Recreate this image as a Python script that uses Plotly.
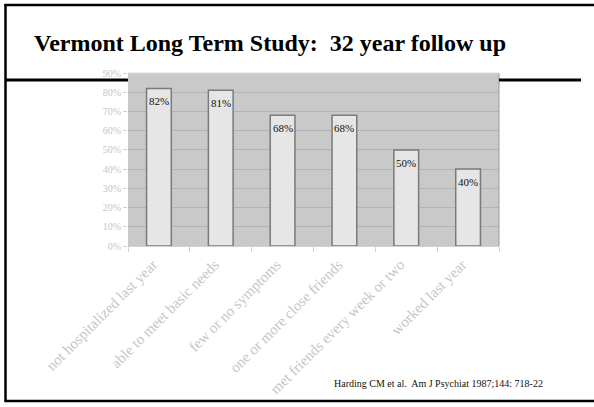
import plotly.graph_objects as go

W, H = 594, 407

categories = [
    "not hospitalized last year",
    "able to meet basic needs",
    "few or no symptoms",
    "one or more close friends",
    "met friends every week or two",
    "worked last year",
]
values = [82, 81, 68, 68, 50, 40]
y_ticks = [0, 10, 20, 30, 40, 50, 60, 70, 80, 90]
y_tick_labels = [f"{t}%" for t in y_ticks]

title_text = "Vermont Long Term Study:  32 year follow up"
citation_text = "Harding CM et al.  Am J Psychiat 1987;144: 718-22"


def px(x):
    return x / W


def py(y):
    return 1 - y / H


SERIF = "Liberation Serif, Times New Roman, serif"

fig = go.Figure()
fig.add_trace(go.Bar(
    x=categories,
    y=values,
    marker=dict(color="#e6e6e6", line=dict(color="#7a7a7a", width=1.5)),
    hoverinfo="skip",
))

# value labels under the top of each bar
for c, v in zip(categories, values):
    fig.add_annotation(
        x=c, y=v, xref="x", yref="y", text=f"{v}%", showarrow=False,
        yshift=-13, font=dict(family=SERIF, size=11, color="#111111"),
    )

fig.update_layout(
    width=W, height=H,
    margin=dict(l=0, r=0, t=0, b=0, autoexpand=False),
    paper_bgcolor="white",
    plot_bgcolor="#c9c9c9",
    showlegend=False,
    bargap=0.6,
    xaxis=dict(
        domain=[px(128), px(499)],
        automargin=False,
        tickangle=-45,
        tickfont=dict(family=SERIF, size=15, color="#c6c6c6"),
        ticks="outside", tickson="boundaries", ticklen=5, tickcolor="#d0d0d0",
        ticklabelshift=-6, ticklabelstandoff=3,
        showline=True, linecolor="#d0d0d0", linewidth=1,
        showgrid=False, anchor="y",
    ),
    yaxis=dict(
        domain=[py(246), py(73)],
        automargin=False,
        range=[0, 90],
        tickvals=y_ticks, ticktext=y_tick_labels,
        tickfont=dict(family=SERIF, size=10, color="#c6c6c6"),
        ticks="outside", ticklen=4, tickcolor="#d0d0d0",
        showgrid=True, gridcolor="#b3b3b3", gridwidth=1,
        zeroline=False, showline=False, anchor="x",
    ),
)

# plot area border (right side darker)
fig.add_shape(type="line", xref="paper", yref="paper",
              x0=px(499), x1=px(499), y0=py(246), y1=py(73),
              line=dict(color="#9a9a9a", width=1))
fig.add_shape(type="line", xref="paper", yref="paper",
              x0=px(128), x1=px(499), y0=py(73), y1=py(73),
              line=dict(color="#dddddd", width=1))

# slide frame: left, top, bottom
fig.add_shape(type="line", xref="paper", yref="paper",
              x0=px(5.5), x1=px(5.5), y0=py(4), y1=py(401.5),
              line=dict(color="black", width=2.5))
fig.add_shape(type="line", xref="paper", yref="paper",
              x0=px(4.5), x1=px(594), y0=py(5), y1=py(5),
              line=dict(color="black", width=2.5))
fig.add_shape(type="line", xref="paper", yref="paper",
              x0=px(4.5), x1=px(594), y0=py(401), y1=py(401),
              line=dict(color="black", width=2.5))
# separator under title
fig.add_shape(type="line", xref="paper", yref="paper",
              x0=px(5), x1=px(128), y0=py(80), y1=py(80),
              line=dict(color="black", width=3), layer="below")
fig.add_shape(type="line", xref="paper", yref="paper",
              x0=px(499), x1=px(581), y0=py(80), y1=py(80),
              line=dict(color="black", width=3))

fig.add_annotation(
    x=px(32), y=py(43), xref="paper", yref="paper",
    xanchor="left", yanchor="middle", showarrow=False,
    text=f"<b>{title_text}</b>",
    font=dict(family=SERIF, size=24, color="black"),
)
fig.add_annotation(
    x=px(545), y=py(383), xref="paper", yref="paper",
    xanchor="right", yanchor="middle", showarrow=False,
    text=citation_text,
    font=dict(family=SERIF, size=10, color="#111111"),
)

fig.write_html(
    "out.html",
    config={"displayModeBar": False},
    post_script="document.body.style.margin='0';document.body.style.overflow='hidden';",
)
